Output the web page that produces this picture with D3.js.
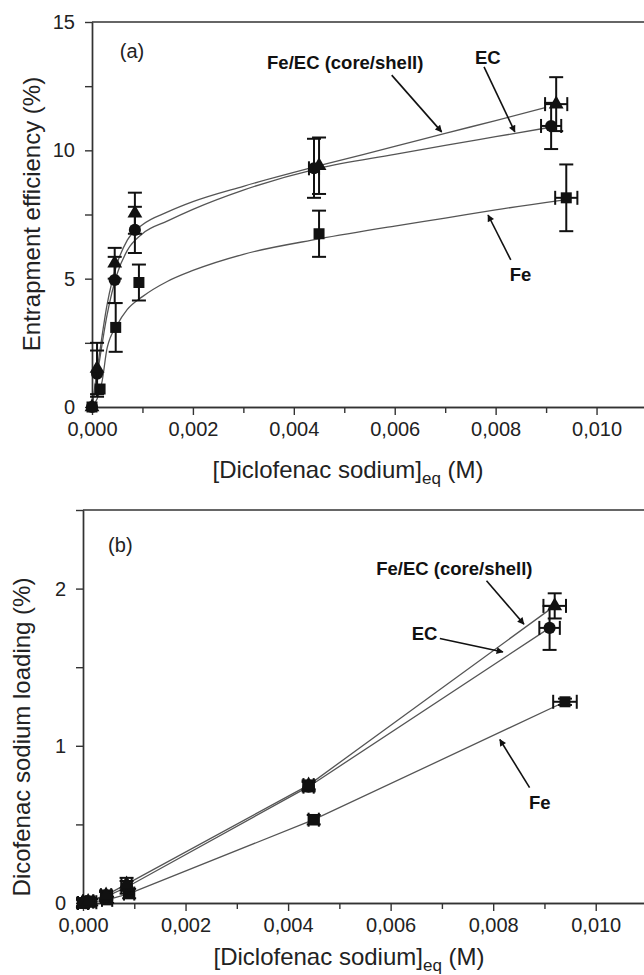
<!DOCTYPE html>
<meta charset="utf-8">
<style>
body { margin: 0; background: #fff; }
svg { font-family: "Liberation Sans", Arial, sans-serif; }
.axis path, .axis line { stroke: #333; stroke-width: 1.4; }
.axis text { font-size: 20px; fill: #222; font-family: "Liberation Sans", Arial, sans-serif; }
</style>
<body>
<svg width="644" height="975"></svg>
<script src="https://cdn.jsdelivr.net/npm/d3@7"></script>
<script>
// tick values
var xTicks = [0, 0.002, 0.004, 0.006, 0.008, 0.010],
    xMinor = [0.001, 0.003, 0.005, 0.007, 0.009, 0.011],
    yTicksA = [0, 5, 10, 15],
    yMinorA = [2.5, 7.5, 12.5],
    yTicksB = [0, 1, 2],
    yMinorB = [0.5, 1.5, 2.5];

// (a) entrapment efficiency, %
var feecA_x = [0, 0.0001, 0.00045, 0.00085, 0.0045, 0.0092],
    feecA_y = [0, 1.5, 5.6, 7.55, 9.4, 11.8],
    feecA_ey = [0, 1.0, 0.6, 0.8, 1.1, 1.05],
    feecA_ex = [0, 0, 0, 0, 0, 0.00022];
var ecA_x = [0, 0.0001, 0.00045, 0.00085, 0.0044, 0.0091],
    ecA_y = [0, 1.3, 4.95, 6.9, 9.3, 10.95],
    ecA_ey = [0, 0.9, 0.9, 0.9, 1.15, 0.9],
    ecA_ex = [0, 0, 0, 0, 0.0001, 0.0002];
var feA_x = [0, 0.00016, 0.00047, 0.00093, 0.0045, 0.0094],
    feA_y = [0, 0.7, 3.1, 4.85, 6.75, 8.15],
    feA_ey = [0, 0, 0.95, 0.7, 0.9, 1.3],
    feA_ex = [0, 0, 0, 0, 0, 0.00022];

// fitted curves in (a)
var fitX = [0, 0.0001, 0.0003, 0.0005, 0.0007, 0.001, 0.0015, 0.002, 0.003, 0.0045, 0.006, 0.007, 0.008, 0.009],
    fitFeEC = [0, 1.4, 4.0, 5.6, 6.5, 7.1, 7.6, 8.0, 8.6, 9.4, 10.15, 10.66, 11.16, 11.67],
    fitEC = [0, 1.2, 3.6, 5.2, 6.1, 6.75, 7.25, 7.7, 8.45, 9.3, 9.84, 10.19, 10.53, 10.87],
    fitFeX = [0, 0.0002, 0.0003, 0.0005, 0.0007, 0.001, 0.0015, 0.002, 0.003, 0.0045, 0.006, 0.007, 0.008, 0.0093],
    fitFe = [0, 1.0, 2.3, 3.2, 3.8, 4.3, 4.9, 5.32, 5.95, 6.55, 7.05, 7.36, 7.68, 8.05];

// (b) drug loading, %
var feecB_x = [0, 0.0001, 0.00045, 0.00085, 0.0044, 0.0092],
    feecB_y = [0, 0.01, 0.05, 0.12, 0.75, 1.89],
    feecB_ey = [0.03, 0.03, 0.03, 0.04, 0.03, 0.08],
    feecB_ex = [0.0001, 0.0001, 0.0001, 0.0001, 0.0001, 0.00022];
var ecB_x = [0, 0.0001, 0.00045, 0.00085, 0.0044, 0.0091],
    ecB_y = [0, 0.01, 0.04, 0.1, 0.74, 1.75],
    ecB_ey = [0.03, 0.03, 0.03, 0.04, 0.03, 0.14],
    ecB_ex = [0.0001, 0.0001, 0.0001, 0.0001, 0.0001, 0.0002];
var feB_x = [0, 0.00016, 0.00047, 0.0009, 0.0045, 0.0094],
    feB_y = [0, 0.005, 0.02, 0.06, 0.53, 1.28],
    feB_ey = [0.02, 0.02, 0.02, 0.03, 0.03, 0.02],
    feB_ex = [0.0001, 0.0001, 0.0001, 0.0001, 0.0001, 0.00023];

var svg = d3.select("svg");
var fmtX = function(d) { return d3.format(".3f")(d).replace(".", ","); };

svg.append("defs").append("marker")
    .attr("id", "head")
    .attr("viewBox", "0 0 10 10")
    .attr("refX", 9).attr("refY", 5)
    .attr("markerWidth", 9).attr("markerHeight", 7)
    .attr("markerUnits", "userSpaceOnUse")
    .attr("orient", "auto")
  .append("path")
    .attr("d", "M0,0L10,5L0,10z")
    .attr("fill", "#111");

function zip(xs, ys, eys, exs) {
  return xs.map(function(x, i) {
    return { x: x, y: ys[i], ey: eys ? eys[i] : 0, ex: exs ? exs[i] : 0 };
  });
}

function panel(p) {
  var x = d3.scaleLinear().domain([0, 0.011]).range([p.left, 647]);
  var y = d3.scaleLinear().domain(p.yDomain).range([p.bottom, p.top]);
  var g = svg.append("g");

  // frame top line
  g.append("line")
      .attr("x1", p.left).attr("x2", 647)
      .attr("y1", p.top).attr("y2", p.top)
      .attr("stroke", "#333").attr("stroke-width", 1.4);

  g.append("g").attr("class", "axis")
      .attr("transform", "translate(0," + p.bottom + ")")
      .call(d3.axisBottom(x).tickValues(xMinor).tickSize(6).tickSizeOuter(0).tickFormat(""));
  g.append("g").attr("class", "axis")
      .attr("transform", "translate(0," + p.bottom + ")")
      .call(d3.axisBottom(x).tickValues(xTicks).tickSize(8).tickSizeOuter(0).tickPadding(9).tickFormat(fmtX))
      .selectAll("text").attr("dy", p.xLabelDy);
  g.append("g").attr("class", "axis")
      .attr("transform", "translate(" + p.left + ",0)")
      .call(d3.axisLeft(y).tickValues(p.yMinor).tickSize(7).tickSizeOuter(0).tickFormat(""));
  g.append("g").attr("class", "axis")
      .attr("transform", "translate(" + p.left + ",0)")
      .call(d3.axisLeft(y).tickValues(p.yTicks).tickSize(7).tickSizeOuter(0).tickPadding(10).tickFormat(d3.format("d")));

  // axis titles
  var xt = g.append("text")
      .attr("x", p.xTitleX).attr("y", p.xTitleY)
      .attr("text-anchor", "middle")
      .attr("font-size", 24).attr("fill", "#222");
  xt.append("tspan").text("[Diclofenac sodium]");
  xt.append("tspan").attr("font-size", 17).attr("dy", 6).text("eq");
  xt.append("tspan").attr("dy", -6).text(" (M)");

  g.append("text")
      .attr("transform", "translate(" + p.yTitleX + "," + p.yTitleY + ") rotate(-90)")
      .attr("text-anchor", "middle")
      .attr("font-size", 24).attr("fill", "#222")
      .text(p.yTitle);

  g.append("text")
      .attr("x", x(p.letter[0])).attr("y", y(p.letter[1]))
      .attr("font-size", 20).attr("fill", "#222")
      .text(p.letter[2]);

  // fitted lines
  var line = d3.line().x(function(d) { return x(d.x); }).y(function(d) { return y(d.y); })
      .curve(p.smooth ? d3.curveMonotoneX : d3.curveLinear);
  p.fits.forEach(function(f) {
    g.append("path")
        .datum(f)
        .attr("d", line)
        .attr("fill", "none")
        .attr("stroke", "#555")
        .attr("stroke-width", 1.3);
  });

  // error bars and markers
  p.series.forEach(function(s) {
    var eg = g.append("g").attr("stroke", "#111").attr("stroke-width", 2);
    s.data.filter(function(d) { return d.ey > 0; }).forEach(function(d) {
      var cx = x(d.x), y0 = y(d.y - d.ey), y1 = y(d.y + d.ey);
      eg.append("line").attr("x1", cx).attr("x2", cx).attr("y1", y0).attr("y2", y1);
      eg.append("line").attr("x1", cx - 7).attr("x2", cx + 7).attr("y1", y0).attr("y2", y0);
      eg.append("line").attr("x1", cx - 7).attr("x2", cx + 7).attr("y1", y1).attr("y2", y1);
    });
    s.data.filter(function(d) { return d.ex > 0; }).forEach(function(d) {
      var cy = y(d.y), x0 = x(d.x - d.ex), x1 = x(d.x + d.ex);
      eg.append("line").attr("x1", x0).attr("x2", x1).attr("y1", cy).attr("y2", cy);
      eg.append("line").attr("x1", x0).attr("x2", x0).attr("y1", cy - 7).attr("y2", cy + 7);
      eg.append("line").attr("x1", x1).attr("x2", x1).attr("y1", cy - 7).attr("y2", cy + 7);
    });
    g.append("g").selectAll("path")
      .data(s.data)
      .enter().append("path")
        .attr("transform", function(d) { return "translate(" + x(d.x) + "," + y(d.y) + ")"; })
        .attr("d", d3.symbol().type(s.symbol).size(s.size))
        .attr("fill", "#111");
  });

  // annotations with arrows
  p.notes.forEach(function(n) {
    g.append("text")
        .attr("x", x(n.tx)).attr("y", y(n.ty))
        .attr("font-size", 18.5).attr("font-weight", "bold").attr("fill", "#111")
        .text(n.text);
    g.append("line")
        .attr("x1", x(n.a[0])).attr("y1", y(n.a[1]))
        .attr("x2", x(n.b[0])).attr("y2", y(n.b[1]))
        .attr("stroke", "#111").attr("stroke-width", 1.6)
        .attr("marker-end", "url(#head)");
  });
}

panel({
  left: 92, top: 22, bottom: 407,
  yDomain: [0, 15], yTicks: yTicksA, yMinor: yMinorA,
  xLabelDy: "0.62em",
  xTitleX: 348, xTitleY: 478,
  yTitleX: 40, yTitleY: 214, yTitle: "Entrapment efficiency (%)",
  letter: [0.00055, 13.6, "(a)"],
  smooth: true,
  fits: [zip(fitX, fitFeEC), zip(fitX, fitEC), zip(fitFeX, fitFe)],
  series: [
    { data: zip(feA_x, feA_y, feA_ey, feA_ex), symbol: d3.symbolSquare, size: 121 },
    { data: zip(ecA_x, ecA_y, ecA_ey, ecA_ex), symbol: d3.symbolCircle, size: 115 },
    { data: zip(feecA_x, feecA_y, feecA_ey, feecA_ex), symbol: d3.symbolTriangle, size: 95 }
  ],
  notes: [
    { text: "Fe/EC (core/shell)", tx: 0.00347, ty: 13.17, a: [0.00594, 12.93], b: [0.00693, 10.72] },
    { text: "EC", tx: 0.00759, ty: 13.36, a: [0.00777, 13.25], b: [0.00838, 10.72] },
    { text: "Fe", tx: 0.00828, ty: 4.91, a: [0.0083, 5.73], b: [0.00785, 7.48] }
  ]
});

panel({
  left: 83, top: 510, bottom: 903,
  yDomain: [0, 2.5], yTicks: yTicksB, yMinor: yMinorB,
  xLabelDy: "0.6em",
  xTitleX: 349, xTitleY: 965,
  yTitleX: 30, yTitleY: 737, yTitle: "Dicofenac sodium loading (%)",
  letter: [0.00049, 2.23, "(b)"],
  smooth: false,
  fits: [zip(feecB_x, feecB_y), zip(ecB_x, ecB_y), zip(feB_x, feB_y)],
  series: [
    { data: zip(feB_x, feB_y, feB_ey, feB_ex), symbol: d3.symbolSquare, size: 121 },
    { data: zip(ecB_x, ecB_y, ecB_ey, ecB_ex), symbol: d3.symbolCircle, size: 115 },
    { data: zip(feecB_x, feecB_y, feecB_ey, feecB_ex), symbol: d3.symbolTriangle, size: 95 }
  ],
  notes: [
    { text: "Fe/EC (core/shell)", tx: 0.00572, ty: 2.087, a: [0.00787, 2.05], b: [0.0086, 1.774] },
    { text: "EC", tx: 0.00641, ty: 1.672, a: [0.00696, 1.683], b: [0.00819, 1.597] },
    { text: "Fe", tx: 0.0087, ty: 0.6, a: [0.00871, 0.734], b: [0.00813, 1.04] }
  ]
});
</script>
</body>
